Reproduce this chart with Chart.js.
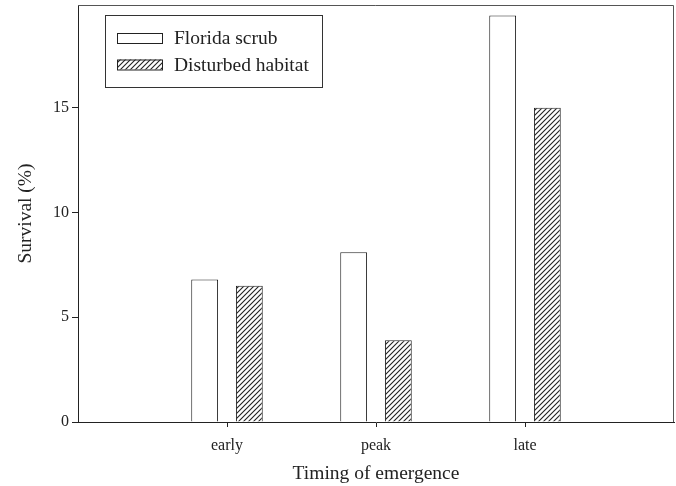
<!DOCTYPE html>
<html>
<head>
<meta charset="utf-8">
<script src="https://cdn.jsdelivr.net/npm/chart.js@4.4.1/dist/chart.umd.min.js"></script>
<style>
  html, body { margin: 0; padding: 0; background: #fff; }
  #wrap { width: 676px; height: 486px; }
</style>
</head>
<body>
<div id="wrap"><canvas id="chart" width="676" height="486"></canvas></div>
<script>
// data
const categories = ["early", "peak", "late"];
const floridaScrub = [6.8, 8.1, 19.4];
const disturbedHabitat = [6.5, 3.9, 15.0];
const seriesNames = ["Florida scrub", "Disturbed habitat"];
const yTicks = [0, 5, 10, 15];

const ink = "#222";

// diagonal hatch for the disturbed habitat bars
function hatchPattern() {
  const n = 5;
  const c = document.createElement("canvas");
  c.width = n;
  c.height = n;
  const g = c.getContext("2d");
  g.fillStyle = "#fff";
  g.fillRect(0, 0, n, n);
  g.strokeStyle = ink;
  g.lineWidth = 1.1;
  g.beginPath();
  g.moveTo(-1, n + 1); g.lineTo(n + 1, -1);
  g.moveTo(-1, 1); g.lineTo(1, -1);
  g.moveTo(n - 1, n + 1); g.lineTo(n + 1, n - 1);
  g.stroke();
  return g.createPattern(c, "repeat");
}

// box legend in the upper left of the plot
const boxLegend = {
  id: "boxLegend",
  afterDraw(chart) {
    const ctx = chart.ctx;
    ctx.save();
    ctx.strokeStyle = "#333";
    ctx.lineWidth = 1;
    ctx.strokeRect(105.5, 15.5, 217, 72);
    ctx.font = "19.5px 'Liberation Serif', 'Times New Roman', serif";
    ctx.textBaseline = "alphabetic";
    chart.data.datasets.forEach((ds, i) => {
      const y = 33 + i * 26.5;
      ctx.fillStyle = ds.backgroundColor;
      ctx.fillRect(117, y, 45, 10);
      ctx.strokeStyle = ink;
      ctx.strokeRect(117.5, y + 0.5, 45, 10);
      ctx.fillStyle = ink;
      ctx.fillText(ds.label, 174, y + 11);
    });
    ctx.restore();
  }
};

// top and right side of the frame
const frame = {
  id: "frame",
  afterDraw(chart) {
    const { left, right, top, bottom } = chart.chartArea;
    const ctx = chart.ctx;
    ctx.save();
    ctx.strokeStyle = "#555";
    ctx.lineWidth = 1;
    ctx.beginPath();
    ctx.moveTo(left, top + 0.5);
    ctx.lineTo(right - 0.5, top + 0.5);
    ctx.lineTo(right - 0.5, bottom);
    ctx.stroke();
    ctx.restore();
  }
};

Chart.defaults.font.family = "'Liberation Serif', 'Times New Roman', serif";
Chart.defaults.color = ink;

const ctx = document.getElementById("chart").getContext("2d");
new Chart(ctx, {
  type: "bar",
  data: {
    datasets: [
      {
        label: seriesNames[0],
        data: floridaScrub.map((v, i) => ({ x: i + 1, y: v })),
        backgroundColor: "#fff",
        borderColor: ink,
        borderWidth: 1
      },
      {
        label: seriesNames[1],
        data: disturbedHabitat.map((v, i) => ({ x: i + 1, y: v })),
        backgroundColor: hatchPattern(),
        borderColor: ink,
        borderWidth: 1
      }
    ]
  },
  options: {
    responsive: false,
    devicePixelRatio: 1,
    animation: false,
    categoryPercentage: 0.6,
    barPercentage: 0.6,
    layout: { padding: { top: 5, right: 2, left: 0, bottom: 0 } },
    plugins: {
      legend: { display: false },
      tooltip: { enabled: false }
    },
    scales: {
      x: {
        type: "linear",
        min: 0,
        max: 4,
        offset: false,
        afterFit: s => { s.height = 64; s.paddingLeft = 0; s.paddingRight = 0; },
        afterBuildTicks: s => { s.ticks = categories.map((c, i) => ({ value: i + 1 })); },
        ticks: {
          padding: 9,
          font: { size: 16 },
          callback: v => categories[v - 1] || ""
        },
        grid: { offset: false, drawOnChartArea: false, tickLength: 5, color: ink },
        border: { display: true, color: ink, width: 1 },
        title: {
          display: true,
          text: "Timing of emergence",
          font: { size: 19.5 },
          padding: { top: 0, bottom: 0 }
        }
      },
      y: {
        min: 0,
        max: 19.9,
        afterFit: s => { s.width = 78; s.paddingTop = 0; s.paddingBottom = 0; },
        afterBuildTicks: s => { s.ticks = yTicks.map(v => ({ value: v })); },
        ticks: { padding: 3, font: { size: 16 } },
        grid: { drawOnChartArea: false, tickLength: 6, color: ink },
        border: { display: true, color: ink, width: 1 },
        title: {
          display: true,
          text: "Survival (%)",
          font: { size: 19.5 },
          padding: { top: 14, bottom: 0 }
        }
      }
    }
  },
  plugins: [frame, boxLegend]
});
</script>
</body>
</html>
